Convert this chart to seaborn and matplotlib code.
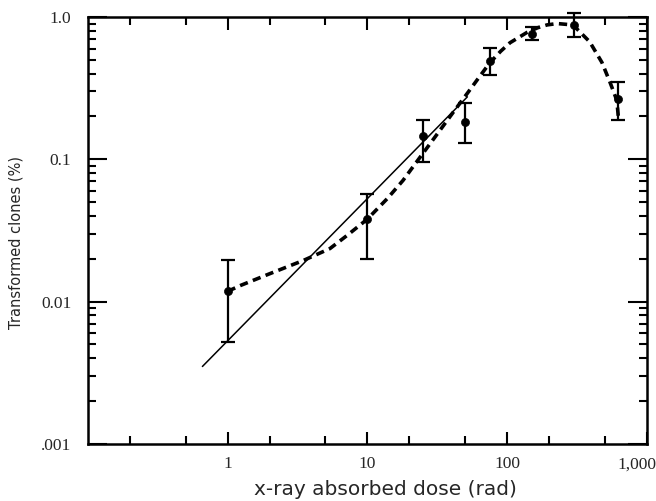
import numpy as np
import pandas as pd
import matplotlib
matplotlib.use("Agg")
import matplotlib.pyplot as plt
import matplotlib.ticker as mticker
import matplotlib.transforms as mtrans
import seaborn as sns

# measured points with error bars (dose in rad, transformed clones in %)
dose = [1, 10, 25, 50, 75, 150, 300, 620]
frac = [0.0118, 0.038, 0.145, 0.182, 0.49, 0.76, 0.88, 0.265]
frac_low = [0.0052, 0.0198, 0.095, 0.13, 0.39, 0.69, 0.72, 0.19]
frac_high = [0.0195, 0.057, 0.19, 0.25, 0.61, 0.85, 1.07, 0.35]

# hand-drawn dashed fit curve
curve_dose = [1, 1.24, 2.0, 3.5, 5.4, 7.2, 10, 13.9, 18, 22, 27, 32, 41, 53,
              64, 75, 90, 105, 139, 165, 193, 228, 296, 390, 477, 544, 610, 625]
curve_frac = [0.0118, 0.013, 0.0157, 0.0195, 0.0236, 0.0293, 0.038, 0.053,
              0.0711, 0.093, 0.122, 0.153, 0.213, 0.299, 0.385, 0.475, 0.575,
              0.66, 0.78, 0.84, 0.88, 0.90, 0.88, 0.67, 0.48, 0.35, 0.26, 0.20]

# straight (linear) line
line_dose = [0.66, 52]
line_frac = [0.0035, 0.275]

x_ticks = [1, 10, 100, 1000]
x_ticklabels = ["1", "10", "100", "1,000"]
y_ticks = [0.001, 0.01, 0.1, 1.0]
y_ticklabels = [".001", "0.01", "0.1", "1.0"]

sns.set_style("ticks")
plt.rcParams['font.family'] = ['Liberation Serif', 'DejaVu Serif']

fig = plt.figure(figsize=(6.56, 5.01), dpi=100)
ax = fig.add_axes([0.134, 0.114, 0.852, 0.852])

pts = pd.DataFrame({"dose": dose, "frac": frac})
curve = pd.DataFrame({"dose": curve_dose, "frac": curve_frac})
line = pd.DataFrame({"dose": line_dose, "frac": line_frac})

sns.lineplot(data=line, x="dose", y="frac", ax=ax, color="black", lw=1.1, sort=False)
sns.lineplot(data=curve, x="dose", y="frac", ax=ax, color="black", lw=2.6,
             sort=False, dashes=False, linestyle=(0, (2.3, 1.5)))

yerr = [np.array(frac) - np.array(frac_low), np.array(frac_high) - np.array(frac)]
ax.errorbar(dose, frac, yerr=yerr, fmt="none", ecolor="black", elinewidth=1.6,
            capsize=5, capthick=1.6, clip_on=False, zorder=3)
sns.scatterplot(data=pts, x="dose", y="frac", ax=ax, color="black", s=34,
                edgecolor="black", zorder=4, clip_on=False)

ax.set_xscale("log")
ax.set_yscale("log")
ax.set_xlim(0.1, 1000)
ax.set_ylim(0.001, 1.0)

ax.set_xticks(x_ticks)
ax.set_xticklabels(x_ticklabels)
ax.xaxis.set_minor_locator(mticker.LogLocator(base=10, subs=[2, 5]))
ax.xaxis.set_minor_formatter(mticker.NullFormatter())
ax.set_yticks(y_ticks)
ax.set_yticklabels(y_ticklabels)
ax.yaxis.set_minor_locator(mticker.LogLocator(base=10, subs=np.arange(2, 10)))
ax.yaxis.set_minor_formatter(mticker.NullFormatter())

ax.tick_params(which="both", direction="in", top=True, right=True, width=1.5,
               labelsize=12.5, color="black")
ax.tick_params(axis="x", which="major", length=9, pad=9)
ax.tick_params(axis="x", which="minor", length=6)
ax.tick_params(axis="y", which="major", length=14, pad=12)
ax.tick_params(axis="y", which="minor", length=6)

# pull the "1,000" label in so it stays inside the figure
last = ax.get_xticklabels()[-1]
last.set_transform(last.get_transform() +
                   mtrans.ScaledTranslation(-10 / 100, 0, fig.dpi_scale_trans))

for s in ax.spines.values():
    s.set_linewidth(1.8)
    s.set_color("black")

ax.set_xlabel("")
ax.set_ylabel("")
fig.text(0.587, 0.012, "x-ray absorbed dose (rad)", ha="center", va="baseline",
         fontsize=14.5, family=["DejaVu Sans"])
fig.text(0.024, 0.515, "Transformed clones (%)", ha="center", va="center",
         rotation=90, fontsize=10.5, family=["DejaVu Sans"])

fig.savefig("out.png", dpi=100)
